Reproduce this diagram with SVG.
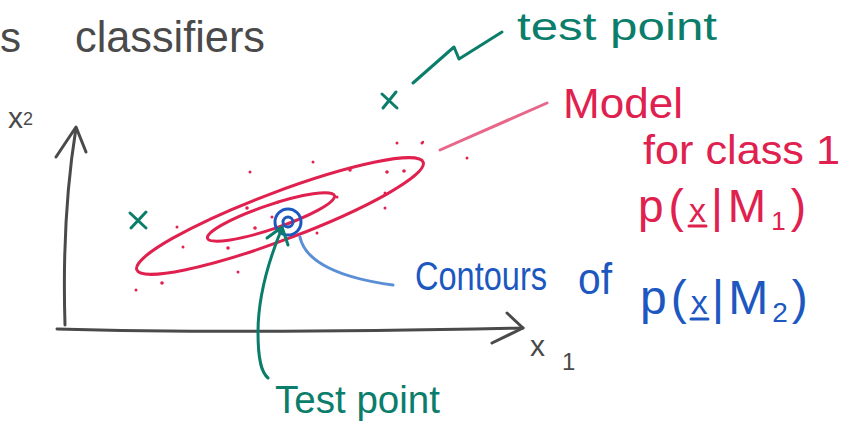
<svg xmlns="http://www.w3.org/2000/svg" width="853" height="435" viewBox="0 0 853 435">
<style>
.t{font-family:"Liberation Sans","DejaVu Sans",sans-serif}
.gray{fill:#4a4a4a}
.red{fill:#e0204e}
.green{fill:#0b7d6b}
.blue{fill:#1c58c0}
.ln{fill:none;stroke-linecap:round;stroke-linejoin:round}
.axis{stroke:#4a4a4a;stroke-width:3}
.rs{stroke:#e0204e;stroke-width:3}
.gs{stroke:#0b7d6b;stroke-width:3}
.bs{stroke:#1c58c0;stroke-width:3}
.dot{fill:#e0204e}
</style>
<rect width="853" height="435" fill="#ffffff"/>
<g id="title">
<text class="t gray" x="0" y="52" font-size="42">s</text>
<text class="t gray" x="75" y="52" font-size="44" textLength="190" lengthAdjust="spacingAndGlyphs">classifiers</text>
</g>
<g id="axes">
<path class="ln axis" d="M65,325 C63,260 66,190 76,128"/>
<path class="ln axis" d="M56,157 L76,127 L86,152"/>
<path class="ln axis" d="M57,329 C200,333 380,331 523,328"/>
<path class="ln axis" d="M507,313 L523,328 L492,343"/>
<text class="t gray" x="8" y="128" font-size="30">x<tspan font-size="18" dy="-3">2</tspan></text>
<text class="t gray" x="530" y="356" font-size="30">x</text>
<text class="t gray" x="562" y="370" font-size="24">1</text>
</g>
<g id="model1">
<ellipse class="ln rs" cx="280" cy="216" rx="153" ry="24" transform="rotate(-20.6 280 216)"/>
<ellipse class="ln rs" cx="271" cy="217" rx="67" ry="12" transform="rotate(-18.6 271 217)"/>
<g class="dot">
<circle cx="250" cy="172" r="1.5"/><circle cx="313" cy="162" r="1.5"/><circle cx="397" cy="143" r="1.5"/>
<circle cx="422" cy="143" r="1.5"/><circle cx="350" cy="170" r="1.8"/><circle cx="387" cy="172" r="1.8"/>
<circle cx="404" cy="171" r="1.8"/><circle cx="385" cy="193" r="1.5"/><circle cx="385" cy="208" r="1.5"/>
<circle cx="278" cy="202" r="1.5"/><circle cx="247" cy="208" r="1.8"/><circle cx="272" cy="217" r="1.5"/>
<circle cx="255" cy="228" r="1.8"/><circle cx="228" cy="248" r="1.8"/><circle cx="183" cy="247" r="1.5"/>
<circle cx="177" cy="227" r="1.5"/><circle cx="317" cy="233" r="1.5"/><circle cx="238" cy="272" r="1.5"/>
<circle cx="162" cy="283" r="1.8"/><circle cx="136" cy="290" r="1.5"/><circle cx="337" cy="197" r="1.5"/>
<circle cx="467" cy="158" r="1.5"/><circle cx="423" cy="142" r="1.2"/>
</g>
</g>
<g id="model2">
<circle class="ln bs" cx="288" cy="222" r="13"/>
<circle class="ln bs" cx="288" cy="222" r="5"/>
</g>
<g id="points">
<path class="ln gs" d="M130,213 L146,228 M146,212 L131,228"/>
<path class="ln gs" d="M382,94 L397,108 M396,92 L383,108"/>
</g>
<g id="connectors">
<path class="ln" stroke="#e8668a" stroke-width="3" d="M440,150 L547,103"/>
<path class="ln gs" d="M413,83 L454,47 L459,59 L502,32"/>
<path class="ln gs" d="M282,228 C268,262 258,300 258,332 C258,362 262,373 268,378"/>
<path class="ln gs" d="M267,238 L282,227 L288,245"/>
<path class="ln" stroke="#5a8fd6" stroke-width="3" d="M300,237 C305,262 340,278 393,285"/>
</g>
<g id="label-test-top">
<text class="t green" x="517" y="40" font-size="38" textLength="200" lengthAdjust="spacingAndGlyphs">test point</text>
</g>
<g id="label-model">
<text class="t red" x="563" y="118" font-size="42" textLength="120" lengthAdjust="spacingAndGlyphs">Model</text>
<text class="t red" x="643" y="164" font-size="40" textLength="197" lengthAdjust="spacingAndGlyphs">for class 1</text>
<text class="t red" x="638" y="222" font-size="46" letter-spacing="5">p(<tspan font-size="34">x</tspan>|M<tspan font-size="26" dy="8">1</tspan><tspan dy="-8">)</tspan></text>
<path class="ln rs" d="M689,226 L706,226"/>
</g>
<g id="label-contours">
<text class="t blue" x="415" y="290" font-size="40" textLength="132" lengthAdjust="spacingAndGlyphs">Contours</text>
<text class="t blue" x="578" y="294" font-size="44" textLength="34" lengthAdjust="spacingAndGlyphs">of</text>
<text class="t blue" x="640" y="314" font-size="48" letter-spacing="4">p(<tspan font-size="34">x</tspan>|M<tspan font-size="28" dy="8">2</tspan><tspan dy="-8">)</tspan></text>
<path class="ln bs" d="M691,319 L708,319"/>
</g>
<g id="label-test-bottom">
<text class="t green" x="275" y="413" font-size="38" textLength="165" lengthAdjust="spacingAndGlyphs">Test point</text>
</g>
</svg>
